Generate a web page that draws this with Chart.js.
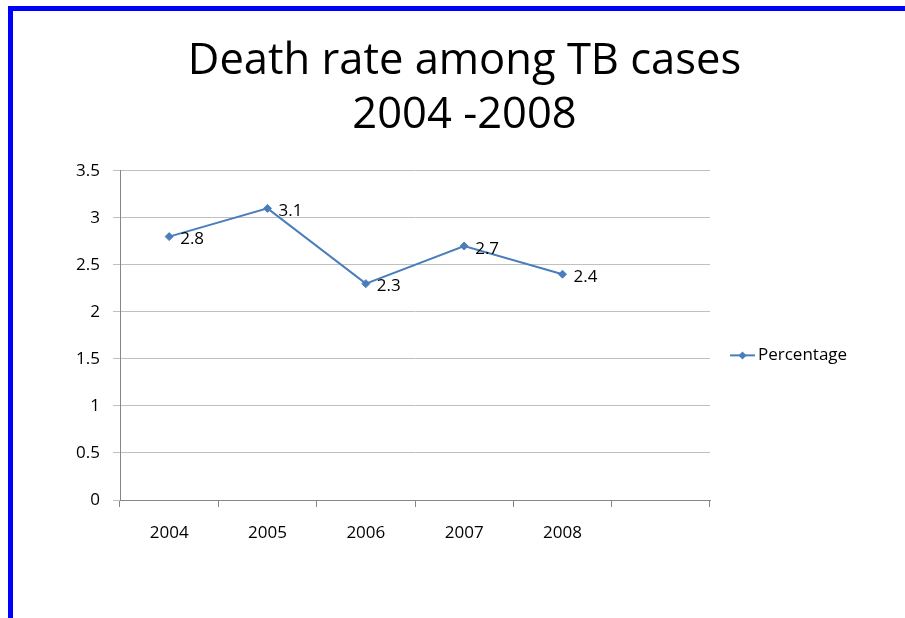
<!DOCTYPE html>
<html>
<head>
<meta charset="utf-8">
<script src="https://cdn.jsdelivr.net/npm/chart.js@4"></script>
<style>
  html, body { margin: 0; padding: 0; background: #fff; }
  body { width: 905px; height: 618px; position: relative; overflow: hidden; }
  .frame-top { position: absolute; left: 8px; top: 6px; width: 897px; height: 5px; background: #0000ff; }
  .frame-left { position: absolute; left: 8px; top: 6px; width: 5px; height: 612px; background: #0000ff; }
  #wrap { position: absolute; left: 13px; top: 11px; width: 892px; height: 607px; }
</style>
</head>
<body>
<div class="frame-top"></div>
<div class="frame-left"></div>
<div id="wrap"><canvas id="chart"></canvas></div>
<script>
const titleLines = ['Death rate among TB cases', '2004 -2008'];
const categories = ['2004', '2005', '2006', '2007', '2008', ''];
const percentage = [2.8, 3.1, 2.3, 2.7, 2.4, null];
const seriesName = 'Percentage';

const FONT = '"Open Sans", "DejaVu Sans", sans-serif';
const lineColor = '#4a7ebb';

function diamond(ctx, x, y, r) {
  ctx.beginPath();
  ctx.moveTo(x, y - r);
  ctx.lineTo(x + r, y);
  ctx.lineTo(x, y + r);
  ctx.lineTo(x - r, y);
  ctx.closePath();
  ctx.fill();
}

// value labels right of each point
const pointLabels = {
  id: 'pointLabels',
  afterDatasetsDraw(chart) {
    const ctx = chart.ctx;
    const meta = chart.getDatasetMeta(0);
    ctx.save();
    ctx.font = '17px ' + FONT;
    ctx.fillStyle = '#000';
    ctx.textBaseline = 'middle';
    meta.data.forEach((pt, i) => {
      const v = percentage[i];
      if (v == null) return;
      ctx.fillText(String(v), pt.x + 11, pt.y + 3);
    });
    ctx.restore();
  }
};

// legend to the right of the plot, line + diamond marker
const sideLegend = {
  id: 'sideLegend',
  afterDraw(chart) {
    const ctx = chart.ctx;
    const a = chart.chartArea;
    const x = a.right + 20;
    const y = (a.top + a.bottom) / 2 + 20;
    ctx.save();
    ctx.strokeStyle = lineColor;
    ctx.fillStyle = lineColor;
    ctx.lineWidth = 2;
    ctx.beginPath();
    ctx.moveTo(x, y);
    ctx.lineTo(x + 25, y);
    ctx.stroke();
    diamond(ctx, x + 12.5, y, 4);
    ctx.font = '17px ' + FONT;
    ctx.fillStyle = '#000';
    ctx.textBaseline = 'middle';
    ctx.fillText(seriesName, x + 28, y);
    ctx.restore();
  }
};

new Chart(document.getElementById('chart'), {
  type: 'line',
  data: {
    labels: categories,
    datasets: [{
      label: seriesName,
      data: percentage,
      borderColor: lineColor,
      backgroundColor: lineColor,
      borderWidth: 2,
      pointStyle: 'rectRot',
      pointRadius: 4,
      pointBorderWidth: 1,
      tension: 0,
    }],
  },
  options: {
    responsive: true,
    maintainAspectRatio: false,
    animation: false,
    layout: { padding: { top: 23, left: 11, right: 0, bottom: 0 } },
    plugins: {
      title: {
        display: true,
        text: titleLines,
        color: '#000',
        font: { size: 43.5, family: FONT, weight: 'normal', lineHeight: 1.25 },
        padding: { top: 0, bottom: 28 },
      },
      legend: { display: false },
      tooltip: { enabled: false },
    },
    scales: {
      x: {
        offset: true,
        afterFit: (s) => { s.height = 118; },
        grid: { offset: true, drawOnChartArea: false, color: '#868686', tickLength: 7 },
        border: { color: '#868686' },
        ticks: { color: '#000', font: { size: 17, family: FONT }, padding: 16, maxRotation: 0 },
      },
      y: {
        min: 0,
        max: 3.5,
        afterFit: (s) => { s.width = 96; },
        grid: { color: '#c0c0c0', tickLength: 7 },
        border: { color: '#868686' },
        ticks: {
          stepSize: 0.5,
          color: '#000',
          font: { size: 17, family: FONT },
          padding: 13,
          callback: (v) => String(v),
        },
      },
      // empty right-hand space that holds the legend
      legendSpace: {
        type: 'linear',
        position: 'right',
        afterFit: (s) => { s.width = 195; },
        grid: { display: false },
        border: { display: false },
        ticks: { display: false },
      },
    },
  },
  plugins: [pointLabels, sideLegend],
});
</script>
</body>
</html>
